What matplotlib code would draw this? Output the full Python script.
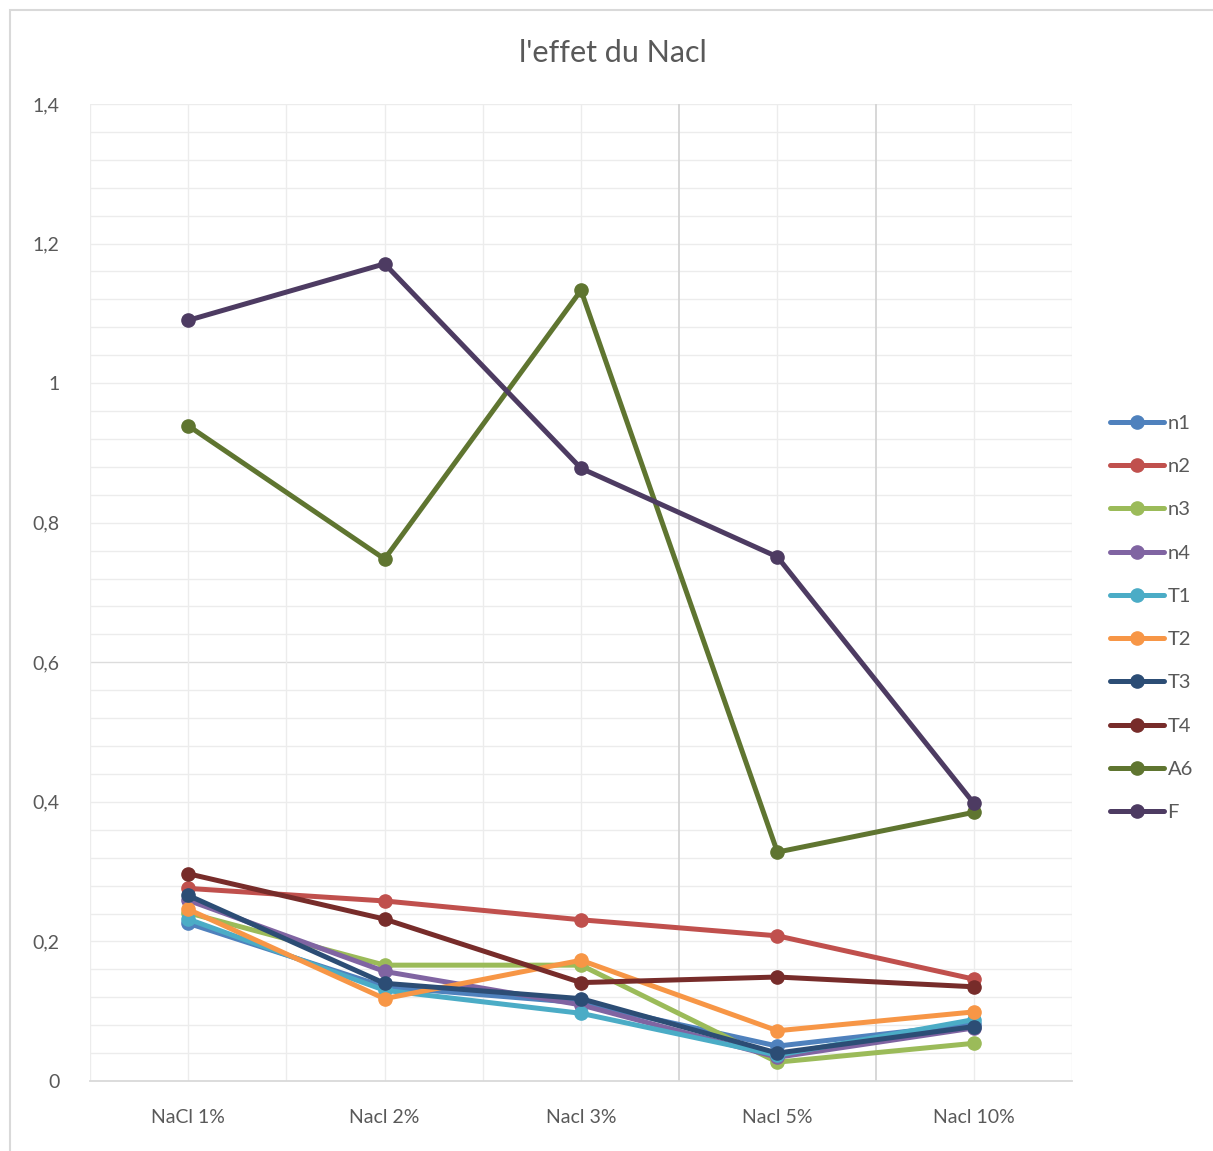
import matplotlib
matplotlib.use("Agg")
import matplotlib.pyplot as plt
from matplotlib.patches import Rectangle
from matplotlib.ticker import FixedLocator, FuncFormatter

categories = ["NaCl 1%", "Nacl 2%", "Nacl 3%", "Nacl 5%", "Nacl 10%"]

n1 = [0.226, 0.135, 0.112, 0.050, 0.082]
n2 = [0.276, 0.258, 0.231, 0.208, 0.146]
n3 = [0.241, 0.166, 0.166, 0.027, 0.054]
n4 = [0.259, 0.157, 0.109, 0.034, 0.076]
T1 = [0.232, 0.130, 0.097, 0.037, 0.088]
T2 = [0.246, 0.118, 0.173, 0.072, 0.099]
T3 = [0.266, 0.140, 0.118, 0.040, 0.078]
T4 = [0.297, 0.232, 0.141, 0.149, 0.135]
A6 = [0.939, 0.748, 1.133, 0.328, 0.385]
F = [1.090, 1.171, 0.878, 0.751, 0.398]

series_names = ["n1", "n2", "n3", "n4", "T1", "T2", "T3", "T4", "A6", "F"]
series_values = [n1, n2, n3, n4, T1, T2, T3, T4, A6, F]
colors = ["#4F81BD", "#C0504D", "#9BBB59", "#8064A2", "#4BACC6",
          "#F79646", "#2C4D75", "#772C2A", "#5F7530", "#4D3B62"]

W, H = 1213, 1151
fig = plt.figure(figsize=(W / 100, H / 100), dpi=100)
fig.patch.set_facecolor("white")

font = ["Lato", "DejaVu Sans"]
text_color = "#595959"

# chart frame
fig.patches.append(Rectangle((10 / W, -0.05), 1.2, (H - 10) / H + 0.05,
                             transform=fig.transFigure, fill=False,
                             edgecolor="#d9d9d9", linewidth=1.5))

left, right, top, bottom = 90, 1072, 104, 1081
ax = fig.add_axes([left / W, (H - bottom) / H, (right - left) / W, (bottom - top) / H])

x = list(range(len(categories)))
ax.set_xlim(-0.5, len(categories) - 0.5)
ax.set_ylim(0, 1.4)

# gridlines
for i in range(36):
    yv = i * 0.04
    if 0 < yv <= 1.4001:
        ax.axhline(yv, color="#dcdcdc" if abs(yv - 0.6) < 1e-6 else "#ececec",
                   linewidth=1, zorder=0)
for i in range(11):
    xv = -0.5 + i * 0.5
    dark = i in (6, 8)
    ax.axvline(xv, color="#d4d4d4" if dark else "#ececec", linewidth=1.3 if dark else 1, zorder=0)

for name, vals, c in zip(series_names, series_values, colors):
    ax.plot(x, vals, color=c, linewidth=3.6, marker="o", markersize=9.5,
            label=name, zorder=3, solid_capstyle="round")

for s in ["top", "right", "left"]:
    ax.spines[s].set_visible(False)
ax.spines["bottom"].set_color("#d9d9d9")
ax.spines["bottom"].set_linewidth(1.3)

ax.set_xticks(x)
ax.set_xticklabels(categories)
ax.yaxis.set_major_locator(FixedLocator([0, 0.2, 0.4, 0.6, 0.8, 1.0, 1.2, 1.4]))
ax.yaxis.set_major_formatter(FuncFormatter(lambda v, p: ("%g" % round(v, 2)).replace(".", ",")))
ax.tick_params(axis="both", length=0, labelsize=14, colors=text_color)
ax.tick_params(axis="x", pad=20)
ax.tick_params(axis="y", pad=22)
for lab in ax.get_xticklabels() + ax.get_yticklabels():
    lab.set_fontfamily(font)

fig.text(613 / W, 1 - 53 / H, "l'effet du Nacl", ha="center", va="center",
         fontsize=22, color=text_color, family=font)

leg = ax.legend(loc="center left", bbox_to_anchor=(1100 / W, 1 - 618 / H),
                bbox_transform=fig.transFigure, frameon=False,
                prop={"family": font, "size": 14.5}, labelspacing=1.30,
                handlelength=2.7, handletextpad=0.15, borderpad=0)
for t in leg.get_texts():
    t.set_color(text_color)

fig.savefig("out.png", dpi=100, facecolor="white")
